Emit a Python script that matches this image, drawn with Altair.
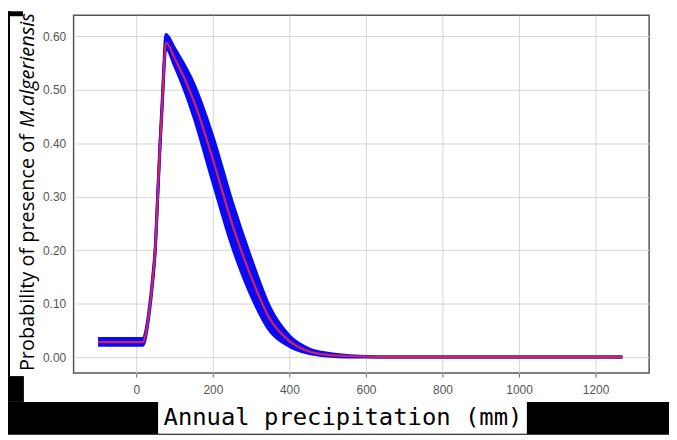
import altair as alt
import pandas as pd

# --- data ---
precip = [-100, 18, 25, 32, 42, 50, 55, 62, 68, 72, 77, 100, 150, 200, 250, 300, 350,
          400, 450, 500, 550, 600, 650, 1270]
mean_p = [0.028, 0.028, 0.045, 0.077, 0.14, 0.21, 0.29, 0.40, 0.48, 0.54, 0.589, 0.56,
          0.48, 0.37, 0.25, 0.15, 0.07, 0.03, 0.011, 0.004, 0.002, 0.001, 0.0, 0.0]
lower_p = [0.022, 0.022, 0.040, 0.072, 0.135, 0.205, 0.285, 0.395, 0.475, 0.535, 0.579,
           0.545, 0.450, 0.327, 0.208, 0.115, 0.048, 0.020, 0.007, 0.002, 0.0, 0.0,
           0.0, 0.0]
upper_p = [0.035, 0.035, 0.050, 0.082, 0.145, 0.215, 0.295, 0.405, 0.487, 0.548, 0.604,
           0.578, 0.512, 0.413, 0.292, 0.185, 0.092, 0.040, 0.016, 0.007, 0.003, 0.001,
           0.0, 0.0]

x_ticks = [0, 200, 400, 600, 800, 1000, 1200]
y_ticks = [0.0, 0.05, 0.10, 0.15, 0.20, 0.25, 0.30, 0.35, 0.40, 0.45, 0.50, 0.55, 0.60]

df = pd.DataFrame({"precip": precip, "mean": mean_p, "lower": lower_p, "upper": upper_p})
one = pd.DataFrame({"k": [0]})

xscale = alt.Scale(domain=[-164, 1340], nice=False, zero=False)
yscale = alt.Scale(domain=[-0.03, 0.64], nice=False, zero=False)

xaxis = alt.Axis(values=x_ticks, title=None, grid=True, tickSize=4, labelPadding=8,
                 format="d", labelOverlap=False,
                 labelFont="Liberation Sans", labelFontSize=12, labelColor="#555",
                 domain=False, tickColor="#666", gridColor="#d4d4d4")
yaxis = alt.Axis(values=y_ticks, title=None, format=".2f", grid=True, ticks=False,
                 labelOverlap=False, labelPadding=8, labelFont="Liberation Sans",
                 labelFontSize=12, labelColor="#555", domain=False, gridColor="#d4d4d4")

base = alt.Chart(df)
BLUE = "#0a0af5"

band = base.mark_area(color=BLUE, opacity=1, interpolate="monotone").encode(
    x=alt.X("precip:Q", scale=xscale, axis=xaxis),
    y=alt.Y("lower:Q", scale=yscale, axis=yaxis),
    y2="upper:Q",
)
edge_hi = base.mark_line(color=BLUE, strokeWidth=3, interpolate="monotone").encode(
    x="precip:Q", y="upper:Q")
edge_lo = base.mark_line(color=BLUE, strokeWidth=3, interpolate="monotone").encode(
    x="precip:Q", y="lower:Q")
mean_line = base.mark_line(color="#d4215e", strokeWidth=2.2, interpolate="monotone").encode(
    x="precip:Q", y="mean:Q")

# decorative black framing seen in the reference crop
deco = alt.Chart(one)
black_bottom = deco.mark_rect(color="black").encode(
    x=alt.value(-66), x2=alt.value(599), y=alt.value(389), y2=alt.value(422))
black_left_low = deco.mark_rect(color="black").encode(
    x=alt.value(-66), x2=alt.value(-50), y=alt.value(363), y2=alt.value(389))
black_left_line = deco.mark_rect(color="black").encode(
    x=alt.value(-66), x2=alt.value(-64), y=alt.value(-4), y2=alt.value(363))
black_top = deco.mark_rect(color="black").encode(
    x=alt.value(-66), x2=alt.value(-51), y=alt.value(-4), y2=alt.value(1))
white_box = deco.mark_rect(color="white").encode(
    x=alt.value(85), x2=alt.value(456), y=alt.value(389), y2=alt.value(421))

x_title = deco.mark_text(font="DejaVu Sans Mono", fontSize=24, color="black",
                         align="center", baseline="middle").encode(
    x=alt.value(271), y=alt.value(405), text=alt.value("Annual precipitation (mm)"))
y_title_a = deco.mark_text(font="Open Sans", fontSize=20, color="black", angle=270,
                           align="left", baseline="middle").encode(
    x=alt.value(-46), y=alt.value(358), text=alt.value("Probability of presence of"))
y_title_b = deco.mark_text(font="Open Sans", fontSize=20, fontStyle="italic", color="black",
                           angle=270, align="left", baseline="middle").encode(
    x=alt.value(-46), y=alt.value(113), text=alt.value("M.algeriensis"))

chart = alt.layer(
    black_bottom, black_left_low, black_left_line, black_top, white_box,
    band, edge_hi, edge_lo, mean_line, x_title, y_title_a, y_title_b
).properties(
    width=579, height=360,
    autosize=alt.AutoSizeParams(type="none"),
    padding={"left": 66, "top": 6, "right": 20, "bottom": 62},
).configure_view(
    stroke="#555", strokeWidth=1.5
)

chart.save("out.html", embed_options={"renderer": "svg", "actions": False})
